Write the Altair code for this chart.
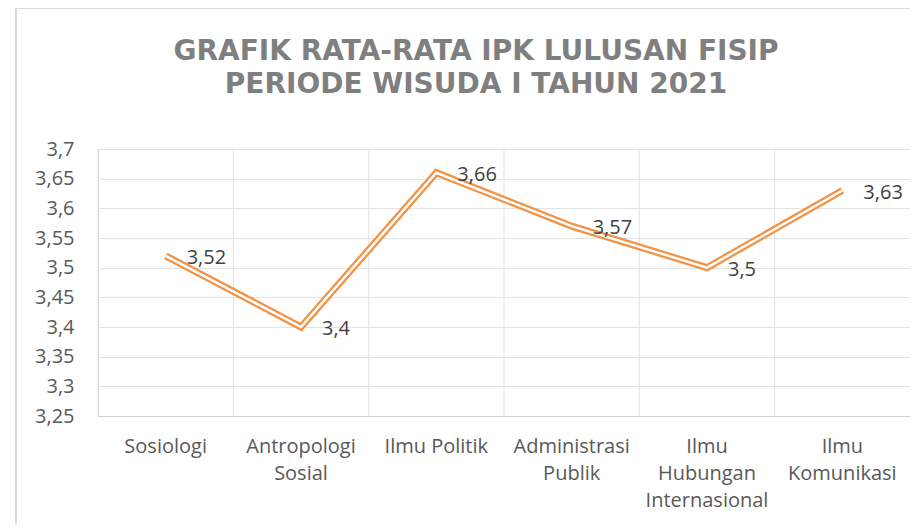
import altair as alt
import pandas as pd

categories = ["Sosiologi", "Antropologi Sosial", "Ilmu Politik",
              "Administrasi Publik", "Ilmu Hubungan Internasional", "Ilmu Komunikasi"]
label_lines = [["Sosiologi"], ["Antropologi", "Sosial"], ["Ilmu Politik"],
               ["Administrasi", "Publik"], ["Ilmu", "Hubungan", "Internasional"],
               ["Ilmu", "Komunikasi"]]
values = [3.52, 3.40, 3.66, 3.57, 3.50, 3.63]
y_ticks = [3.25, 3.30, 3.35, 3.40, 3.45, 3.50, 3.55, 3.60, 3.65, 3.70]
title_lines = ["GRAFIK RATA-RATA IPK LULUSAN FISIP", "PERIODE WISUDA I TAHUN 2021"]

df = pd.DataFrame({
    "cat": categories,
    "val": values,
    "label": [str(v).replace(".", ",") for v in values],
})

FONT = "Open Sans"
ORANGE = "#F39244"
W, H = 812, 267

cats_js = "[" + ",".join("'" + c + "'" for c in categories) + "]"
lines_js = "[" + ",".join("[" + ",".join("'" + l + "'" for l in ll) + "]" for ll in label_lines) + "]"
x_label_expr = f"{lines_js}[indexof({cats_js}, datum.value)]"

xscale = alt.Scale(type="band", paddingInner=0, paddingOuter=0)
yscale = alt.Scale(domain=[3.25, 3.7], nice=False, zero=False)

x_axis = alt.Axis(labelAngle=0, labelExpr=x_label_expr, ticks=False, grid=False,
                  domainColor="#d0d0d0", labelFont=FONT, labelFontSize=20,
                  labelColor="#595959", labelPadding=20, labelLineHeight=27,
                  labelBaseline="top", labelAlign="center", bandPosition=0.5,
                  labelOverlap=False, labelBound=False)
y_axis = alt.Axis(values=y_ticks, labelExpr="replace(format(datum.value, '.2~f'), '.', ',')",
                  ticks=False, domain=False, grid=True, gridColor="#e3e3e3",
                  labelFont=FONT, labelFontSize=20, labelColor="#595959",
                  labelPadding=24, labelOverlap=False, labelBound=False,
                  labelFlush=False, tickCount=10)


def xe(band):
    return alt.X("cat:N", sort=categories, scale=xscale, bandPosition=band, title=None,
                 axis=x_axis)


y_enc = alt.Y("val:Q", scale=yscale, title=None, axis=y_axis)

frame = alt.Chart(df).mark_rect(fill=None, stroke="#d9d9d9", strokeWidth=1).encode(
    x=alt.value(-82), x2=alt.value(840), y=alt.value(-141), y2=alt.value(420))

grid_v = alt.Chart(df).mark_rule(color="#e3e3e3", strokeWidth=1).encode(x=xe(0))

outer = alt.Chart(df).mark_line(strokeWidth=7, color=ORANGE, strokeJoin="miter",
                                strokeCap="butt").encode(x=xe(0.5), y=y_enc)
inner = alt.Chart(df).mark_line(strokeWidth=2.5, color="white", strokeJoin="miter",
                                strokeCap="butt").encode(x=xe(0.5), y=y_enc)
labels = alt.Chart(df).mark_text(align="left", baseline="middle", dx=21, dy=2, fontSize=20,
                                 font=FONT, color="#404040").encode(
    x=xe(0.5), y=y_enc, text="label:N")

chart = alt.layer(frame, grid_v, outer, inner, labels).properties(
    width=W, height=H,
    autosize=alt.AutoSizeParams(type="none"),
    padding={"left": 90, "top": 141, "right": 0, "bottom": 108},
    title=alt.TitleParams(text=title_lines, font="DejaVu Sans", fontSize=28, fontWeight="bold",
                          color="#7f7f7f", lineHeight=33, anchor="middle", frame="group",
                          dx=-28, offset=-91),
).configure_view(stroke="#d9d9d9", strokeWidth=1)

chart.save("out.html", embed_options={"renderer": "svg", "actions": False})
